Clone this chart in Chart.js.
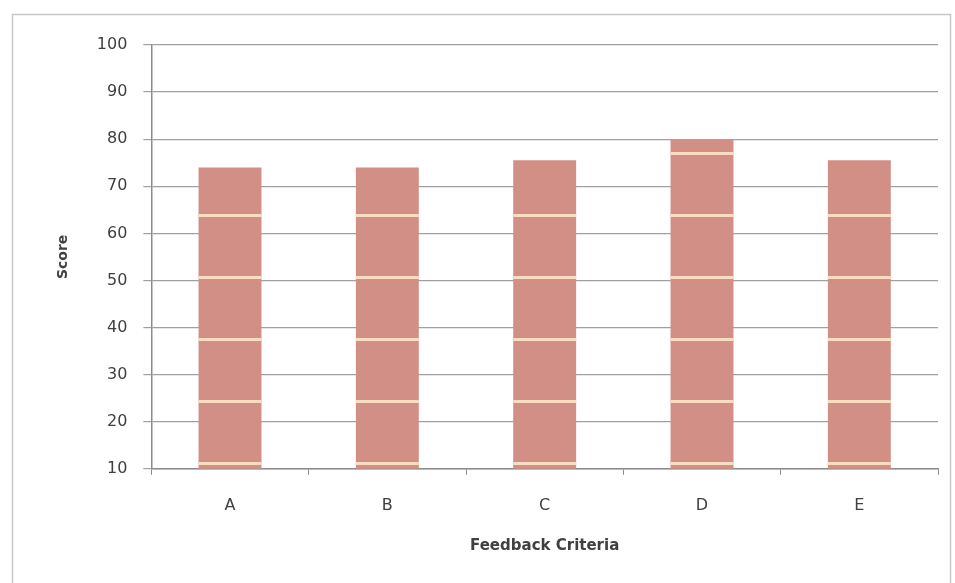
<!DOCTYPE html>
<html>
<head>
<meta charset="utf-8">
<script src="https://cdn.jsdelivr.net/npm/chart.js@4"></script>
<style>
  html, body { margin: 0; padding: 0; background: #fff; }
  #wrap { width: 955px; height: 583px; position: relative; }
</style>
</head>
<body>
<div id="wrap"><canvas id="scoreChart" width="955" height="583"></canvas></div>
<script>
const categories = ['A', 'B', 'C', 'D', 'E'];
const scores = [74, 74, 75.5, 80, 75.5];
const yTicks = [10, 20, 30, 40, 50, 60, 70, 80, 90, 100];

// frame round the whole chart
const framePlugin = {
    id: 'frame',
    beforeDraw(chart) {
        const ctx = chart.ctx;
        ctx.save();
        ctx.fillStyle = '#fff';
        ctx.fillRect(0, 0, chart.width, chart.height);
        ctx.strokeStyle = '#c8c8c8';
        ctx.lineWidth = 1.5;
        ctx.strokeRect(12.5, 14.5, 938, 580);
        ctx.restore();
    }
};

// light bands across the bars, like the tiled fill in the original
const bandPlugin = {
    id: 'bands',
    afterDatasetsDraw(chart) {
        const ctx = chart.ctx;
        const y = chart.scales.y;
        const meta = chart.getDatasetMeta(0);
        ctx.save();
        ctx.strokeStyle = 'rgba(250, 226, 196, 0.95)';
        ctx.lineWidth = 3;
        meta.data.forEach((bar, i) => {
            const half = bar.width / 2;
            for (let v = 11.3; v < scores[i] - 1; v += 13.15) {
                const py = Math.round(y.getPixelForValue(v)) + 0.5;
                ctx.beginPath();
                ctx.moveTo(bar.x - half, py);
                ctx.lineTo(bar.x + half, py);
                ctx.stroke();
            }
        });
        ctx.restore();
    }
};

const ctx = document.getElementById('scoreChart');
new Chart(ctx, {
    type: 'bar',
    data: {
        labels: categories,
        datasets: [{
            label: 'Score',
            data: scores,
            backgroundColor: 'rgb(209, 143, 134)',
            borderWidth: 0,
            barPercentage: 0.4,
            categoryPercentage: 1.0,
        }]
    },
    options: {
        responsive: false,
        animation: false,
        layout: { padding: { left: 51, right: 17, top: 45, bottom: 28 } },
        plugins: {
            legend: { display: false },
            tooltip: { enabled: false },
        },
        scales: {
            x: {
                grid: {
                    offset: true,
                    drawOnChartArea: false,
                    drawTicks: true,
                    tickLength: 6,
                    color: '#8c8c8c',
                },
                border: { color: '#8c8c8c', width: 1.5 },
                ticks: { color: '#404040', font: { family: 'DejaVu Sans', size: 16 }, padding: 21 },
                title: {
                    display: true,
                    text: 'Feedback Criteria',
                    color: '#404040',
                    font: { family: 'DejaVu Sans', size: 15, weight: 'bold' },
                    padding: { top: 1, bottom: 0 },
                },
            },
            y: {
                min: 10,
                max: 100,
                afterBuildTicks(axis) {
                    axis.ticks = yTicks.map(v => ({ value: v }));
                },
                grid: {
                    color: '#a0a0a0',
                    lineWidth: 1.2,
                    tickLength: 8,
                },
                border: { color: '#8c8c8c', width: 1.5 },
                ticks: { color: '#404040', font: { family: 'DejaVu Sans', size: 16 }, padding: 16 },
                title: {
                    display: true,
                    text: 'Score',
                    color: '#404040',
                    font: { family: 'DejaVu Sans', size: 14, weight: 'bold' },
                    padding: { top: 4, bottom: 9 },
                },
            }
        }
    },
    plugins: [framePlugin, bandPlugin]
});
</script>
</body>
</html>
